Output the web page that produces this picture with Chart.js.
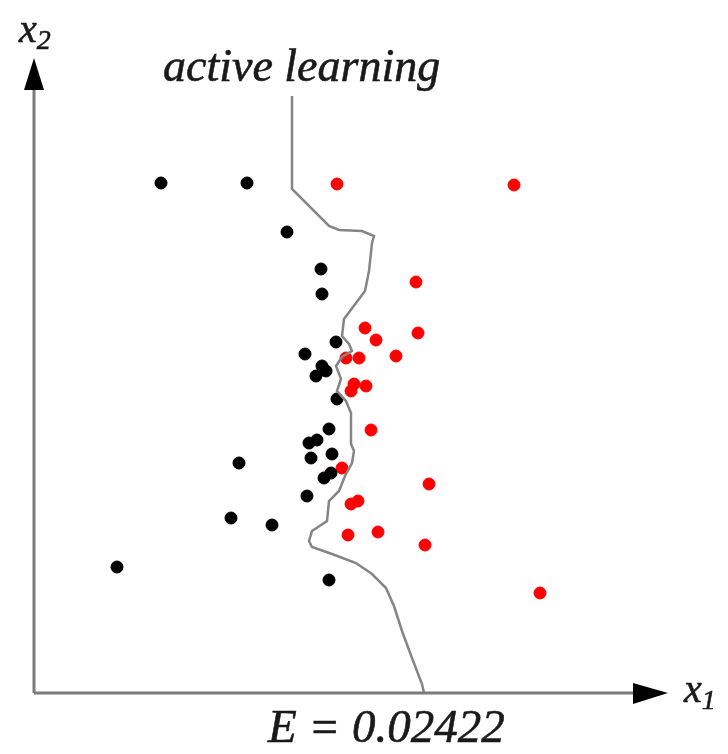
<!DOCTYPE html>
<html>
<head>
<meta charset="utf-8">
<script src="https://cdn.jsdelivr.net/npm/chart.js@4"></script>
<style>
  html, body { margin: 0; padding: 0; background: #fff; }
  #wrap { width: 728px; height: 754px; position: relative; }
  #chart { position: absolute; left: 0; top: 0; }
  .lbl {
    position: absolute;
    font-family: "Liberation Serif", "Times New Roman", Times, "DejaVu Serif", serif;
    font-style: italic;
    color: #1a1a1a;
    white-space: nowrap;
    line-height: 1;
    -webkit-text-stroke: 0.6px #1a1a1a;
  }
  .lbl sub { font-size: 0.7em; vertical-align: -0.25em; }
</style>
</head>
<body>
<div id="wrap">
  <canvas id="chart" width="728" height="754"></canvas>
  <div class="lbl" style="left:19px; top:9px; font-size:40px;">x<sub>2</sub></div>
  <div class="lbl" style="left:163px; top:43px; font-size:46px;">active learning</div>
  <div class="lbl" style="left:684px; top:669px; font-size:40px;">x<sub>1</sub></div>
  <div class="lbl" style="left:268px; top:703px; font-size:47px;">E = 0.02422</div>
</div>
<script>
// class A (black) samples
const blackX = [127, 213, 253, 287, 288, 302, 271, 288, 282, 292, 303, 295, 275, 283, 277, 298, 290, 297, 205, 273, 197, 238, 83, 295];
const blackY = [510, 510, 461, 424, 399, 351, 339, 327, 317, 322, 294, 264, 250, 253, 235, 239, 215, 220, 230, 197, 175, 168, 126, 113];

// class B (red) samples
const redX = [303, 480, 382, 384, 331, 342, 362, 312, 325, 320, 332, 317, 337, 308, 395, 317, 324, 314, 344, 391, 506];
const redY = [509, 508, 411, 360, 365, 353, 337, 335, 335, 309, 307, 302, 263, 225, 209, 189, 192, 158, 161, 148, 100];

// decision boundary found by active learning
const boundaryX = [258, 258, 295, 305, 328, 340, 338, 335, 331, 310, 308, 315, 318, 308, 302, 307, 303, 312, 317, 317, 320, 318, 311, 305, 295, 293, 278, 275, 278, 298, 322, 338, 352, 360, 368, 378, 388, 390];
const boundaryY = [597, 504, 467, 463, 462, 457, 450, 422, 402, 374, 357, 349, 342, 336, 327, 314, 302, 292, 280, 249, 242, 230, 217, 202, 192, 172, 162, 152, 146, 139, 130, 119, 105, 87, 62, 35, 9, 0];

const xMax = 634;
const yMax = 635;

function toPoints(xs, ys) {
  return xs.map((x, i) => ({ x: x, y: ys[i] }));
}

// axes with arrowheads
const axesArrows = {
  id: "axesArrows",
  afterDraw(chart) {
    const ctx = chart.ctx;
    const sx = chart.scales.x;
    const sy = chart.scales.y;
    const x0 = sx.getPixelForValue(0);
    const y0 = sy.getPixelForValue(0);
    const top = sy.getPixelForValue(yMax);
    const right = sx.getPixelForValue(xMax);

    ctx.save();
    ctx.strokeStyle = "#7a7a7a";
    ctx.lineWidth = 3;
    ctx.beginPath();
    ctx.moveTo(x0, y0);
    ctx.lineTo(x0, top + 30);
    ctx.moveTo(x0, y0);
    ctx.lineTo(right - 34, y0);
    ctx.stroke();

    ctx.fillStyle = "#000";
    ctx.beginPath();
    ctx.moveTo(x0, top);
    ctx.lineTo(x0 - 10, top + 32);
    ctx.lineTo(x0 + 10, top + 32);
    ctx.closePath();
    ctx.fill();
    ctx.beginPath();
    ctx.moveTo(right, y0);
    ctx.lineTo(right - 35, y0 - 10);
    ctx.lineTo(right - 35, y0 + 11);
    ctx.closePath();
    ctx.fill();
    ctx.restore();
  }
};

new Chart(document.getElementById("chart"), {
  type: "scatter",
  data: {
    datasets: [
      {
        label: "boundary",
        data: toPoints(boundaryX, boundaryY),
        showLine: true,
        borderColor: "#858585",
        borderWidth: 2.5,
        pointRadius: 0,
        tension: 0,
        fill: false,
      },
      {
        label: "black",
        data: toPoints(blackX, blackY),
        backgroundColor: "#000",
        borderColor: "#000",
        pointRadius: 6,
      },
      {
        label: "red",
        data: toPoints(redX, redY),
        backgroundColor: "#ff0000",
        borderColor: "#ff0000",
        pointRadius: 6,
      },
    ],
  },
  options: {
    responsive: false,
    animation: false,
    layout: { padding: { left: 34, right: 60, top: 58, bottom: 61 } },
    plugins: { legend: { display: false }, tooltip: { enabled: false } },
    scales: {
      x: { type: "linear", min: 0, max: xMax, display: false },
      y: { type: "linear", min: 0, max: yMax, display: false },
    },
  },
  plugins: [axesArrows],
});
</script>
</body>
</html>
